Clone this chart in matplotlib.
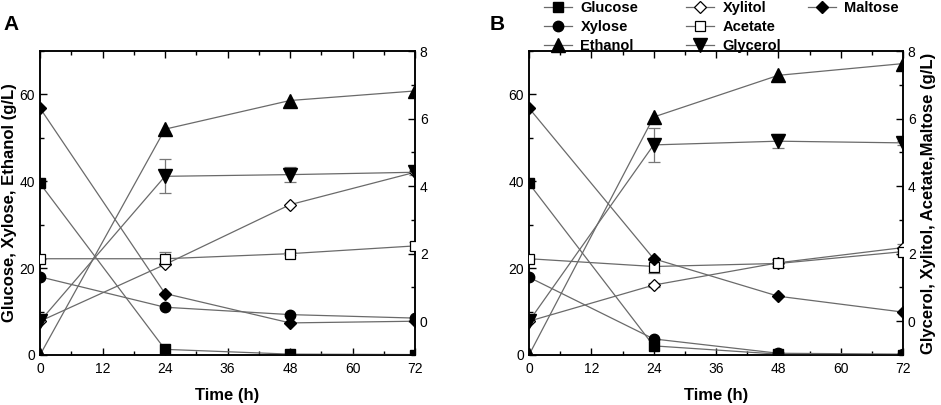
import matplotlib
matplotlib.use("Agg")
import matplotlib.pyplot as plt
import numpy as np

plt.rcParams['font.family'] = ['Liberation Sans', 'DejaVu Sans']

time = [0, 24, 48, 72]
xticks = [0, 12, 24, 36, 48, 60, 72]

# Panel A (left axis: Glucose, Xylose, Ethanol; right axis: others)
A_glucose = [39.5, 1.3, 0.2, 0.1]
A_xylose = [18.0, 11.0, 9.3, 8.5]
A_ethanol = [0.0, 52.0, 58.6, 60.8]
A_xylitol = [0.0, 1.68, 3.45, 4.41]
A_acetate = [1.85, 1.85, 2.0, 2.23]
A_acetate_err = [0.0, 0.2, 0.05, 0.12]
A_glycerol = [0.0, 4.29, 4.34, 4.41]
A_glycerol_err = [0.0, 0.5, 0.22, 0.08]
A_maltose = [6.31, 0.82, -0.05, 0.0]

# Panel B
B_glucose = [39.5, 2.1, 0.2, 0.0]
B_xylose = [17.9, 3.7, 0.4, 0.2]
B_ethanol = [0.0, 54.8, 64.4, 67.1]
B_xylitol = [0.0, 1.07, 1.73, 2.18]
B_xylitol_err = [0.0, 0.05, 0.1, 0.1]
B_acetate = [1.85, 1.62, 1.71, 2.06]
B_acetate_err = [0.0, 0.2, 0.1, 0.1]
B_glycerol = [0.0, 5.22, 5.33, 5.28]
B_glycerol_err = [0.0, 0.5, 0.2, 0.06]
B_maltose = [6.31, 1.85, 0.74, 0.27]

legend_cols = [['Glucose', 'Xylose', 'Ethanol'],
               ['Xylitol', 'Acetate', 'Glycerol'],
               ['Maltose']]

LC = '#6a6a6a'
LW = 0.9


def style(name):
    d = {
        'Glucose': dict(marker='s', mfc='black', mec='black', ms=6.5),
        'Xylose': dict(marker='o', mfc='black', mec='black', ms=7.5),
        'Ethanol': dict(marker='^', mfc='black', mec='black', ms=9.5),
        'Xylitol': dict(marker='D', mfc='white', mec='black', ms=6.5, mew=0.9),
        'Acetate': dict(marker='s', mfc='white', mec='black', ms=7.5, mew=0.9),
        'Glycerol': dict(marker='v', mfc='black', mec='black', ms=9.5),
        'Maltose': dict(marker='D', mfc='black', mec='black', ms=6.5),
    }
    return d[name]


def panel(fig, rect, left_series, right_series, ylabel_left=None, ylabel_right=None):
    ax = fig.add_axes(rect)
    ax2 = ax.twinx()
    handles = {}
    for name, vals, err in left_series:
        h, = ax.plot(time, vals, color=LC, lw=LW, **style(name), zorder=3)
        handles[name] = h
    for name, vals, err in right_series:
        if err is not None:
            ax2.errorbar(time, vals, yerr=err, fmt='none', ecolor='#777777',
                         elinewidth=0.9, capsize=4, capthick=0.9, zorder=2)
        h, = ax2.plot(time, vals, color=LC, lw=LW, **style(name), zorder=3)
        handles[name] = h
    ax.set_xlim(0, 72)
    ax.set_ylim(0, 70)
    ax2.set_ylim(-1, 8)
    ax.set_xticks(xticks)
    ax.set_xticks(np.arange(6, 72, 12), minor=True)
    ax.set_yticks([0, 20, 40, 60])
    ax.set_yticks([10, 30, 50, 70], minor=True)
    ax2.set_yticks([0, 2, 4, 6, 8])
    ax2.set_yticks([-1, 1, 3, 5, 7], minor=True)
    ax.tick_params(axis='x', which='both', direction='in', top=True, labelsize=10, pad=5)
    ax.tick_params(axis='y', which='both', direction='in', labelsize=10)
    ax.tick_params(which='major', length=5, width=1)
    ax.tick_params(which='minor', length=3, width=1)
    ax2.tick_params(axis='y', which='both', direction='in', labelsize=10)
    ax2.tick_params(which='major', length=5, width=1)
    ax2.tick_params(which='minor', length=3, width=1)
    for a in (ax, ax2):
        for s in a.spines.values():
            s.set_linewidth(1.1)
    ax.set_xlabel('Time (h)', fontsize=12, fontweight='bold', labelpad=9)
    if ylabel_left:
        ax.set_ylabel(ylabel_left, fontsize=12, fontweight='bold', labelpad=2)
    if ylabel_right:
        ax2.set_ylabel(ylabel_right, fontsize=12, fontweight='bold', rotation=90, labelpad=4)
    return ax, ax2, handles


fig = plt.figure(figsize=(9.41, 4.05), dpi=100)

axA, axA2, hA = panel(
    fig, [40/941, 50/405, 375/941, 304/405],
    [('Glucose', A_glucose, None), ('Xylose', A_xylose, None), ('Ethanol', A_ethanol, None)],
    [('Xylitol', A_xylitol, None), ('Acetate', A_acetate, A_acetate_err),
     ('Glycerol', A_glycerol, A_glycerol_err), ('Maltose', A_maltose, None)],
    ylabel_left='Glucose, Xylose, Ethanol (g/L)')

axB, axB2, hB = panel(
    fig, [529/941, 50/405, 374/941, 304/405],
    [('Glucose', B_glucose, None), ('Xylose', B_xylose, None), ('Ethanol', B_ethanol, None)],
    [('Xylitol', B_xylitol, B_xylitol_err), ('Acetate', B_acetate, B_acetate_err),
     ('Glycerol', B_glycerol, B_glycerol_err), ('Maltose', B_maltose, None)],
    ylabel_right='Glycerol, Xylitol, Acetate,Maltose (g/L)')

fig.text(3/941, 1 - 25/405, 'A', fontsize=15, fontweight='bold', va='center', ha='left')
fig.text(490/941, 1 - 24.5/405, 'B', fontsize=15, fontweight='bold', va='center', ha='left')

col_x = [544, 686, 808]
for xpix, names in zip(col_x, legend_cols):
    leg = fig.legend([hB[n] for n in names], names, loc='upper left',
                     bbox_to_anchor=(xpix/941, 1 - 1/405), frameon=False,
                     prop={'weight': 'bold', 'size': 10.5}, handlelength=1.9,
                     handletextpad=0.6, labelspacing=0.35, borderpad=0,
                     borderaxespad=0)

fig.savefig('out.png', dpi=100)
